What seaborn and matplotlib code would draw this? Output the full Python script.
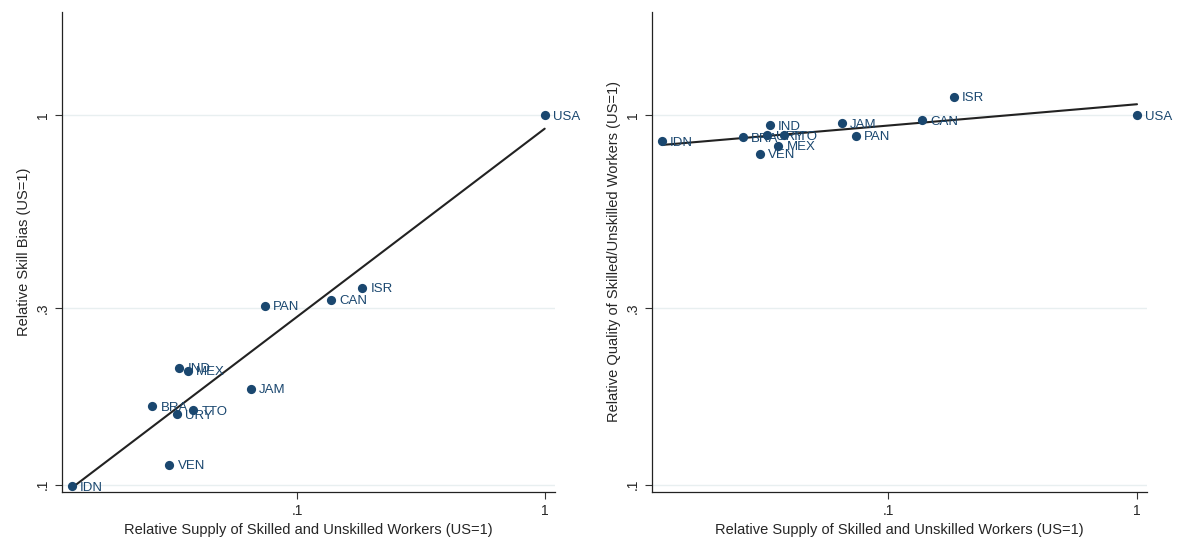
import numpy as np
import pandas as pd
import matplotlib
matplotlib.use('Agg')
import matplotlib.pyplot as plt
import seaborn as sns

# Datos (escala log, US=1)
countries = ['USA', 'ISR', 'CAN', 'PAN', 'JAM', 'IND', 'MEX', 'BRA', 'TTO', 'URY', 'VEN', 'IDN']
supply = [1.0, 0.183, 0.137, 0.074, 0.065, 0.0334, 0.0362, 0.026, 0.038, 0.0326, 0.0304, 0.0123]
skill_bias = [1.0, 0.341, 0.316, 0.305, 0.182, 0.207, 0.203, 0.163, 0.159, 0.155, 0.113, 0.099]
quality = [1.0, 1.124, 0.97, 0.879, 0.952, 0.94, 0.826, 0.873, 0.884, 0.884, 0.786, 0.851]

tick_vals = [0.1, 0.3, 1]
x_tick_vals = [0.1, 1]
tick_labels = ['.1', '.3', '1']
x_tick_labels = ['.1', '1']

sns.set_style('white')
plt.rcParams['font.family'] = ['Liberation Sans', 'DejaVu Sans']

df = pd.DataFrame({
    'country': countries,
    'lx': np.log10(supply),
    'lbias': np.log10(skill_bias),
    'lqual': np.log10(quality),
})

navy = '#1a476f'
fig = plt.figure(figsize=(11.8, 5.44), dpi=100)
ax1 = fig.add_axes([0.0525, 0.0956, 0.4175, 0.8824])
ax2 = fig.add_axes([0.5525, 0.0956, 0.4195, 0.8824])

panels = [
    (ax1, 'lbias', 'Relative Skill Bias (US=1)'),
    (ax2, 'lqual', 'Relative Quality of Skilled/Unskilled Workers (US=1)'),
]

for ax, col, ylabel in panels:
    for t in tick_vals:
        ax.axhline(np.log10(t), color='#e8eff0', lw=1, zorder=0)
    sns.regplot(data=df, x='lx', y=col, ax=ax, ci=None,
                scatter_kws={'s': 44, 'color': navy, 'alpha': 1,
                             'linewidths': 0, 'zorder': 3, 'clip_on': False},
                line_kws={'color': '#222222', 'lw': 1.5, 'zorder': 2})
    for _, r in df.iterrows():
        ax.annotate(r['country'], (r['lx'], r[col]), xytext=(6, -1),
                    textcoords='offset points', va='center', ha='left',
                    fontsize=9.5, color=navy, zorder=4)
    ax.set_xlim(-1.95, 0.04)
    ax.set_ylim(-1.02, 0.28)
    ax.set_xticks(np.log10(x_tick_vals))
    ax.set_xticklabels(x_tick_labels)
    ax.set_yticks(np.log10(tick_vals))
    ax.set_yticklabels(tick_labels, rotation=90, va='center')
    ax.tick_params(axis='both', direction='out', length=5, width=0.8,
                   labelsize=10, color='#333333', bottom=True, left=True)
    ax.set_xlabel('Relative Supply of Skilled and Unskilled Workers (US=1)', fontsize=10.5)
    ax.set_ylabel(ylabel, fontsize=10.5)
    for side in ['top', 'right']:
        ax.spines[side].set_visible(False)
    for side in ['left', 'bottom']:
        ax.spines[side].set_color('#222222')
        ax.spines[side].set_linewidth(0.9)

fig.savefig('out.png', dpi=100)
